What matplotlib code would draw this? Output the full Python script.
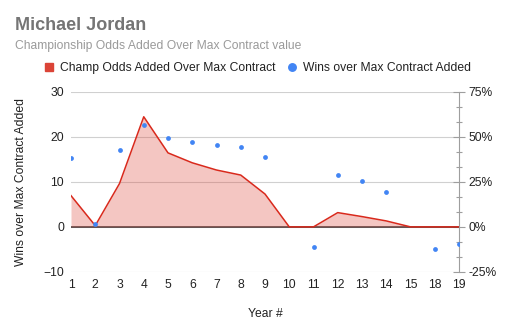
import numpy as np
import matplotlib
matplotlib.use('Agg')
import matplotlib.pyplot as plt
from matplotlib.lines import Line2D
from matplotlib.ticker import FixedLocator, FuncFormatter

plt.rcParams['font.family'] = ['Liberation Sans', 'DejaVu Sans']

years = ['1', '2', '3', '4', '5', '6', '7', '8', '9', '10', '11', '12', '13', '14', '15', '18', '19']
# championship odds added (right axis, %)
champ_odds = [17.3, 0.7, 24.0, 61.0, 41.0, 35.5, 31.5, 28.7, 18.2, 0.0, 0.0, 7.9, 5.7, 3.3, 0.0, 0.0, 0.0]
# wins over max contract (left axis)
wins = [15.2, 0.6, 17.0, 22.6, 19.8, 18.9, 18.1, 17.7, 15.4, np.nan, -4.5, 11.6, 10.2, 7.7, np.nan, -4.9, -3.7]

RED_LINE = '#d9291c'
RED_FILL = '#db4437'
BLUE = '#4285f4'
TXT = '#222222'

W, H = 512, 336
fig = plt.figure(figsize=(W / 100, H / 100), dpi=100)
ax = fig.add_axes([71 / W, 1 - 272 / H, (459 - 71) / W, (272 - 91.5) / H])
ax2 = ax.twinx()

x = np.arange(len(years))

# area on the right axis, drawn underneath (grid lives here too)
ax2.set_axisbelow(True)
ax2.grid(axis='y', which='major', color='#d0d0d0', lw=0.8)
ax2.axhline(0, color='#333333', lw=1.1, zorder=1)
ax2.fill_between(x, champ_odds, 0, color=RED_FILL, alpha=0.3, lw=0, zorder=2)
ax2.plot(x, champ_odds, color=RED_LINE, lw=1.1, zorder=3)
ax2.set_ylim(-25, 75)

# wins on the left axis, on top
ax.set_zorder(ax2.get_zorder() + 1)
ax.patch.set_visible(False)
ax.scatter(x, wins, s=12, color=BLUE, zorder=4, lw=0)
ax.set_ylim(-10, 30)
ax.set_yticks([-10, 0, 10, 20, 30])

ax.set_xlim(0, len(years) - 1)
ax.set_xticks(x)
ax.set_xticklabels(years)

for s in ax.spines.values():
    s.set_visible(False)
for name, s in ax2.spines.items():
    s.set_visible(name == 'right')
ax2.spines['right'].set_color('#9e9e9e')

ax.tick_params(axis='both', length=0, labelsize=8.7, labelcolor=TXT)
ax.tick_params(axis='y', pad=5)
ax.tick_params(axis='x', pad=5)

ax2.yaxis.set_major_locator(FixedLocator([-25, 0, 25, 50, 75]))
ax2.yaxis.set_minor_locator(FixedLocator(np.arange(-25, 75.1, 25 / 3)))
ax2.yaxis.set_major_formatter(FuncFormatter(lambda v, p: f'{v:.0f}%'))
ax2.tick_params(axis='y', which='major', direction='inout', length=8, width=0.8,
                color='#9e9e9e', labelsize=8.7, labelcolor=TXT, pad=3)
ax2.tick_params(axis='y', which='minor', direction='inout', length=4, width=0.8,
                color='#9e9e9e')

# titles
fig.text(15 / W, 1 - 29.5 / H, 'Michael Jordan', fontsize=13, fontweight='bold',
         color='#757575', va='baseline', ha='left')
fig.text(15 / W, 1 - 48.5 / H, 'Championship Odds Added Over Max Contract value',
         fontsize=8.7, color='#9a9a9a', va='baseline', ha='left')

# axis titles
fig.text(265 / W, 1 - 314 / H, 'Year #', fontsize=8.7, color=TXT, ha='center', va='center')
fig.text(21 / W, 1 - 181.75 / H, 'Wins over Max Contract Added', fontsize=8.7, color=TXT,
         ha='center', va='center', rotation=90)

# legend
handles = [Line2D([], [], marker='s', color=RED_FILL, linestyle='none', markersize=5.4),
           Line2D([], [], marker='o', color=BLUE, linestyle='none', markersize=5.4)]
labels = ['Champ Odds Added Over Max Contract', 'Wins over Max Contract Added']
fig.legend(handles, labels, ncol=2, loc='center left', bbox_to_anchor=(44 / W, 1 - 68 / H),
           frameon=False, fontsize=8.7, handlelength=0.8, handletextpad=0.5,
           columnspacing=1.0, borderpad=0, borderaxespad=0, labelcolor=TXT)

fig.savefig('out.png', dpi=100)
